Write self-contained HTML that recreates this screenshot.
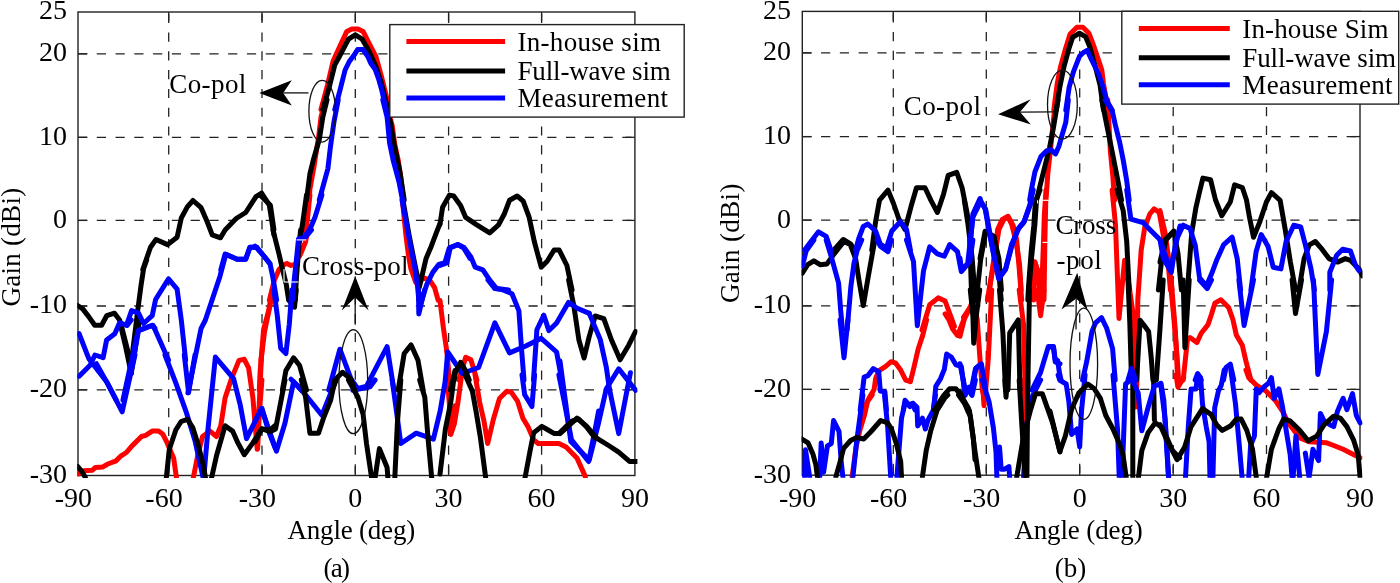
<!DOCTYPE html><html><head><meta charset="utf-8"><style>html,body{margin:0;padding:0;background:#fff;overflow:hidden}svg{display:block;will-change:transform}</style></head><body><svg width="1400" height="583" viewBox="0 0 1400 583" font-family="Liberation Serif, serif" fill="#000">
<rect width="1400" height="583" fill="#fff"/>
<line x1="168.7" y1="12.0" x2="168.7" y2="475.5" stroke="#222" stroke-width="1.3" stroke-dasharray="9.2 9.57" stroke-dashoffset="-1.8"/>
<line x1="262.0" y1="12.0" x2="262.0" y2="475.5" stroke="#222" stroke-width="1.3" stroke-dasharray="9.2 9.57" stroke-dashoffset="-1.8"/>
<line x1="355.3" y1="12.0" x2="355.3" y2="475.5" stroke="#222" stroke-width="1.3" stroke-dasharray="9.2 9.57" stroke-dashoffset="-1.8"/>
<line x1="448.6" y1="12.0" x2="448.6" y2="475.5" stroke="#222" stroke-width="1.3" stroke-dasharray="9.2 9.57" stroke-dashoffset="-1.8"/>
<line x1="541.6" y1="12.0" x2="541.6" y2="475.5" stroke="#222" stroke-width="1.3" stroke-dasharray="9.2 9.57" stroke-dashoffset="-1.8"/>
<line x1="78.0" y1="53.8" x2="634.9" y2="53.8" stroke="#222" stroke-width="1.3" stroke-dasharray="9.2 9.57"/>
<line x1="78.0" y1="137.3" x2="634.9" y2="137.3" stroke="#222" stroke-width="1.3" stroke-dasharray="9.2 9.57"/>
<line x1="78.0" y1="220.4" x2="634.9" y2="220.4" stroke="#222" stroke-width="1.3" stroke-dasharray="9.2 9.57"/>
<line x1="78.0" y1="306.0" x2="634.9" y2="306.0" stroke="#222" stroke-width="1.3" stroke-dasharray="9.2 9.57"/>
<line x1="78.0" y1="389.8" x2="634.9" y2="389.8" stroke="#222" stroke-width="1.3" stroke-dasharray="9.2 9.57"/>
<line x1="168.7" y1="12.0" x2="168.7" y2="21.3" stroke="#222" stroke-width="1.3"/>
<line x1="168.7" y1="475.5" x2="168.7" y2="466.2" stroke="#222" stroke-width="1.3"/>
<line x1="262.0" y1="12.0" x2="262.0" y2="21.3" stroke="#222" stroke-width="1.3"/>
<line x1="262.0" y1="475.5" x2="262.0" y2="466.2" stroke="#222" stroke-width="1.3"/>
<line x1="355.3" y1="12.0" x2="355.3" y2="21.3" stroke="#222" stroke-width="1.3"/>
<line x1="355.3" y1="475.5" x2="355.3" y2="466.2" stroke="#222" stroke-width="1.3"/>
<line x1="448.6" y1="12.0" x2="448.6" y2="21.3" stroke="#222" stroke-width="1.3"/>
<line x1="448.6" y1="475.5" x2="448.6" y2="466.2" stroke="#222" stroke-width="1.3"/>
<line x1="541.6" y1="12.0" x2="541.6" y2="21.3" stroke="#222" stroke-width="1.3"/>
<line x1="541.6" y1="475.5" x2="541.6" y2="466.2" stroke="#222" stroke-width="1.3"/>
<line x1="78.0" y1="53.8" x2="87.3" y2="53.8" stroke="#222" stroke-width="1.3"/>
<line x1="634.9" y1="53.8" x2="625.6" y2="53.8" stroke="#222" stroke-width="1.3"/>
<line x1="78.0" y1="137.3" x2="87.3" y2="137.3" stroke="#222" stroke-width="1.3"/>
<line x1="634.9" y1="137.3" x2="625.6" y2="137.3" stroke="#222" stroke-width="1.3"/>
<line x1="78.0" y1="220.4" x2="87.3" y2="220.4" stroke="#222" stroke-width="1.3"/>
<line x1="634.9" y1="220.4" x2="625.6" y2="220.4" stroke="#222" stroke-width="1.3"/>
<line x1="78.0" y1="306.0" x2="87.3" y2="306.0" stroke="#222" stroke-width="1.3"/>
<line x1="634.9" y1="306.0" x2="625.6" y2="306.0" stroke="#222" stroke-width="1.3"/>
<line x1="78.0" y1="389.8" x2="87.3" y2="389.8" stroke="#222" stroke-width="1.3"/>
<line x1="634.9" y1="389.8" x2="625.6" y2="389.8" stroke="#222" stroke-width="1.3"/>
<rect x="78.0" y="12.0" width="556.9" height="463.5" fill="none" stroke="#222" stroke-width="1.4"/>
<clipPath id="clipa"><rect x="77.3" y="9.0" width="560.1" height="469.0"/></clipPath>
<g clip-path="url(#clipa)" fill="none" stroke-width="5" stroke-linejoin="round" stroke-linecap="round">
<path d="M321.0,109.5 L327.0,87.2 L333.0,61.5 L335.6,55.5 L340.8,44.3 L346.8,31.4 L351.9,28.9 L357.9,28.9 L363.1,31.4 L368.2,41.7 L375.9,56.3 L381.1,75.2 L385.4,92.3 L388.8,106.1" stroke="#ff0000"/>
<path d="M325.3,100.0 L321.0,117.2 L318.5,137.7 L314.2,165.2 L309.9,189.2 L309.0,200.0" stroke="#ff0000"/>
<path d="M385.4,100.0 L392.2,125.7 L394.8,144.6 L398.2,160.0 L400.8,177.2 L403.4,200.0" stroke="#ff0000"/>
<path d="M269.4,300.0 L274.2,280.5 L279.0,269.6 L283.8,264.8 L286.8,263.4 L291.0,265.4 L294.6,264.8" stroke="#ff0000"/>
<path d="M299.4,256.4 L300.6,254.0 L305.5,242.0 L307.9,230.0" stroke="#ff0000"/>
<path d="M309.9,195.0 L307.3,220.7 L305.6,231.0" stroke="#ff0000"/>
<path d="M402.4,200.0 L405.8,234.3 L408.4,254.9 L410.9,268.7 L415.8,282.4 L420.0,280.7 L424.3,278.1 L429.5,279.8 L434.6,287.6 L438.1,300.1" stroke="#ff0000"/>
<path d="M78.2,474.0 L83.6,470.8 L92.1,470.3 L95.4,467.5 L102.9,466.9 L107.2,464.3 L112.5,462.2 L115.7,461.1 L121.1,455.8 L126.4,452.5 L131.8,446.1 L141.5,436.5 L145.7,435.4 L152.2,431.1 L158.6,431.1 L162.9,434.3 L167.2,442.9 L173.6,457.9 L176.8,480.0" stroke="#ff0000"/>
<path d="M192.9,480.0 L197.2,457.9 L202.5,436.5 L210.0,431.1 L216.5,436.5 L220.8,425.7 L225.1,397.9 L231.5,378.6 L239.0,360.4 L244.3,359.3 L248.6,367.9 L252.9,397.9 L257.2,449.3 L261.5,355.0" stroke="#ff0000"/>
<path d="M261.1,360.0 L264.5,332.0 L270.5,302.9" stroke="#ff0000"/>
<path d="M272.2,290.0 L268.7,310.6 L263.6,329.5 L261.9,350.0 L260.1,372.3 L259.3,390.0" stroke="#ff0000"/>
<path d="M446.8,350.9 L448.8,372.3 L449.7,390.0" stroke="#ff0000"/>
<path d="M261.9,380.0 L259.3,414.3 L257.6,448.6" stroke="#ff0000"/>
<path d="M448.8,380.0 L450.5,433.2 L455.0,405.7" stroke="#ff0000"/>
<path d="M440.0,300.6 L443.4,328.0 L446.9,352.0" stroke="#ff0000"/>
<path d="M458.9,380.0 L465.7,357.2 L470.9,359.8 L474.3,370.9 L476.9,380.0" stroke="#ff0000"/>
<path d="M447.2,375.0 L449.9,411.0 L450.8,434.5 L454.4,423.6 L458.0,402.0 L461.6,375.0" stroke="#ff0000"/>
<path d="M475.1,375.0 L479.6,402.0 L484.1,421.8 L487.7,443.5 L493.2,420.0 L499.5,398.4 L506.7,391.2 L511.2,392.1 L517.5,401.1 L522.9,418.2 L528.3,427.3 L533.7,439.9 L538.2,443.5 L558.9,443.5 L566.1,447.1 L576.9,457.9 L585.0,475.9 L586.8,483.1" stroke="#ff0000"/>
<path d="M142.8,269.5 L150.5,247.2 L156.0,239.5 L167.6,244.6 L177.1,237.2 L181.3,218.0 L187.3,206.9 L193.0,200.5 L201.1,207.7 L207.1,221.5 L212.2,234.8 L220.5,237.8 L225.1,230.0 L236.2,218.5 L245.7,212.5 L256.0,196.6 L261.6,193.2 L269.3,205.2 L274.0,235.2" stroke="#000000"/>
<path d="M322.8,109.5 L328.8,88.9 L334.8,64.9 L339.0,57.2 L348.5,39.2 L355.3,34.9 L362.2,39.2 L369.1,51.2 L375.9,66.6 L381.1,82.0 L387.9,109.5" stroke="#000000"/>
<path d="M327.0,100.0 L322.8,117.2 L319.3,139.5 L313.3,160.0 L309.9,173.8 L306.5,200.0" stroke="#000000"/>
<path d="M384.5,100.0 L390.5,122.3 L393.9,142.9 L399.9,172.0 L404.2,200.0" stroke="#000000"/>
<path d="M273.0,230.0 L279.0,254.0 L282.6,269.6 L286.2,284.1 L288.6,300.0" stroke="#000000"/>
<path d="M300.6,230.0 L298.8,248.0 L296.4,278.0 L295.2,300.0" stroke="#000000"/>
<path d="M120.3,324.1 L125.8,347.4 L131.2,373.5" stroke="#000000"/>
<path d="M131.2,373.5 L135.4,347.4 L139.5,320.0" stroke="#000000"/>
<path d="M260.1,195.0 L270.4,205.3 L273.9,229.3" stroke="#000000"/>
<path d="M306.5,195.0 L303.0,220.7 L300.5,237.9" stroke="#000000"/>
<path d="M402.9,200.0 L408.9,234.3 L414.0,260.1 L417.5,277.3 L419.2,287.6 L420.9,280.7 L426.1,258.4 L431.2,246.4 L436.4,232.6 L439.8,224.0" stroke="#000000"/>
<path d="M77.6,305.5 L82.7,308.9 L88.7,316.6 L94.7,325.2 L101.6,325.2 L106.7,315.7 L114.5,313.2 L119.6,320.0 L123.0,332.0 L126.5,345.8 L129.9,360.0" stroke="#000000"/>
<path d="M131.6,360.0 L137.6,311.5 L141.0,285.7 L143.6,268.6 L146.7,260.0" stroke="#000000"/>
<path d="M288.6,299.9 L294.5,307.2 L296.2,290.0" stroke="#000000"/>
<path d="M440.0,224.3 L442.6,207.2 L449.4,195.1 L453.7,196.0 L460.6,205.4 L465.7,217.4 L476.0,224.3 L489.7,232.9 L498.3,225.2 L504.3,214.0 L509.5,200.3 L517.2,196.0 L523.2,201.1 L529.2,217.4 L534.3,241.5 L541.2,267.2 L547.2,261.2 L554.1,250.0 L559.2,250.0 L566.9,265.5 L572.1,290.0" stroke="#000000"/>
<path d="M568.6,280.0 L573.8,305.7 L578.9,340.0 L584.1,358.0 L589.2,336.6 L595.2,316.0 L603.8,318.6 L611.5,340.0 L620.1,359.8 L628.7,345.2 L635.5,331.5" stroke="#000000"/>
<path d="M220.8,270.0 L225.1,254.0 L237.1,259.2 L245.7,259.2 L250.0,247.2 L256.8,247.2 L269.7,263.5" stroke="#0000ff"/>
<path d="M334.8,109.5 L339.9,90.6 L345.1,70.0 L349.3,61.5 L354.5,54.6 L357.6,49.5 L363.1,49.5 L368.2,57.2 L370.8,63.2 L375.1,69.2 L378.5,78.6 L381.9,90.6 L386.2,109.5" stroke="#0000ff"/>
<path d="M338.2,100.0 L333.9,122.3 L330.5,146.3 L327.9,168.6 L319.3,200.0" stroke="#0000ff"/>
<path d="M382.8,100.0 L387.1,117.2 L389.6,142.9 L393.1,160.0 L399.1,182.3 L402.5,200.0" stroke="#0000ff"/>
<path d="M311.5,230.0 L305.5,237.2 L298.5,239.0 L297.0,254.0 L294.0,281.7 L292.5,300.0" stroke="#0000ff"/>
<path d="M255.0,246.2 L262.2,254.0 L270.0,263.6 L273.0,278.0 L276.6,300.0" stroke="#0000ff"/>
<path d="M79.1,333.7 L88.7,358.4 L106.6,381.7 L116.2,400.0" stroke="#0000ff"/>
<path d="M79.1,376.2 L90.1,365.3 L94.9,355.0 L103.1,357.7 L106.6,339.9 L114.8,333.7 L119.6,322.7 L127.1,325.5 L131.2,320.0" stroke="#0000ff"/>
<path d="M123.0,400.0 L129.9,368.0 L138.1,331.0 L151.8,325.5 L155.0,328.2" stroke="#0000ff"/>
<path d="M321.9,195.0 L315.0,217.3 L309.9,229.3 L304.7,236.2" stroke="#0000ff"/>
<path d="M402.0,200.0 L406.8,225.8 L410.9,248.1 L414.4,265.2 L417.5,285.8 L418.8,300.1" stroke="#0000ff"/>
<path d="M421.8,300.1 L426.9,284.1 L432.9,272.1 L438.9,264.4 L444.9,262.7 L449.2,248.1 L457.8,244.6 L463.8,248.1 L470.0,258.4" stroke="#0000ff"/>
<path d="M165.0,355.0 L175.8,382.9 L186.5,412.9 L195.0,440.7 L203.6,480.0" stroke="#0000ff"/>
<path d="M184.3,355.0 L188.6,392.5 L195.0,355.0" stroke="#0000ff"/>
<path d="M203.6,480.0 L207.9,430.0 L215.4,357.1 L233.6,378.6 L240.1,404.3 L246.5,438.6 L261.5,408.6 L275.0,447.2" stroke="#0000ff"/>
<path d="M133.3,360.0 L138.5,330.3 L153.0,325.2 L168.5,360.0" stroke="#0000ff"/>
<path d="M126.5,325.2 L131.6,310.6 L138.5,313.2 L143.6,323.5 L152.2,315.7 L155.6,299.5 L168.5,278.9 L177.1,289.2 L181.3,320.0 L185.6,360.0" stroke="#0000ff"/>
<path d="M187.9,392.9 L201.0,328.7 L205.4,320.0 L220.0,276.2 L225.8,254.4 L237.1,259.2 L245.7,259.2 L250.0,247.2 L256.8,247.2" stroke="#0000ff"/>
<path d="M273.9,290.0 L277.3,315.7 L280.7,348.3 L285.9,353.5 L289.3,324.3 L291.9,290.0" stroke="#0000ff"/>
<path d="M291.0,379.2 L297.9,386.1 L301.3,390.0" stroke="#0000ff"/>
<path d="M328.8,390.0 L339.9,349.2 L351.1,379.2 L357.9,388.6 L366.5,386.1 L387.1,346.6 L393.9,390.0" stroke="#0000ff"/>
<path d="M418.5,290.0 L418.8,314.0 L424.5,290.0" stroke="#0000ff"/>
<path d="M255.0,421.2 L261.9,408.3 L268.7,431.5 L276.4,451.2 L285.0,422.9 L293.6,381.7 L304.7,393.7 L321.9,415.2 L330.5,393.7 L333.0,380.0" stroke="#0000ff"/>
<path d="M352.8,390.3 L369.9,386.9 L375.1,380.0" stroke="#0000ff"/>
<path d="M392.2,380.0 L395.7,405.7 L400.8,443.5 L416.2,433.2 L433.4,439.2 L440.2,410.9 L445.4,380.0" stroke="#0000ff"/>
<path d="M440.0,265.5 L446.9,262.9 L450.3,247.5 L458.0,244.5 L464.0,247.5 L470.9,256.9 L475.2,267.2 L482.9,269.8 L489.7,280.1 L496.6,288.6 L508.6,290.0" stroke="#0000ff"/>
<path d="M488.0,280.0 L494.9,288.6 L501.7,289.4 L512.0,293.7 L518.9,310.9 L521.5,348.6 L524.0,380.0" stroke="#0000ff"/>
<path d="M445.3,380.0 L447.7,352.0 L462.3,373.5 L478.6,367.5 L494.9,322.9 L509.5,352.9 L525.8,346.0 L541.2,338.3 L556.6,352.0 L561.8,380.0" stroke="#0000ff"/>
<path d="M533.5,380.0 L536.9,329.7 L543.8,315.2 L548.9,330.6 L556.6,322.9 L568.6,302.3 L577.2,308.3 L589.2,313.4" stroke="#0000ff"/>
<path d="M589.2,313.4 L600.2,339.4 L606.3,367.2 L609.4,388.8 L618.7,433.6 L630.4,372.8" stroke="#0000ff"/>
<path d="M560.0,361.0 L570.8,441.4 L589.3,459.9 L598.6,422.8 L606.3,388.8 L618.7,368.8 L635.7,390.4" stroke="#0000ff"/>
<path d="M522.0,375.0 L524.7,394.8 L531.9,406.5 L534.6,375.0" stroke="#0000ff"/>
<path d="M558.9,375.0 L564.3,402.0 L571.5,439.9 L588.6,461.5 L595.9,425.5 L598.6,411.0" stroke="#0000ff"/>
<path d="M96.4,363.6 L107.2,382.9 L122.2,411.8 L128.6,382.9 L135.0,355.0" stroke="#0000ff"/>
<path d="M166.1,480.0 L169.3,449.3 L175.8,430.0 L181.1,421.5 L187.5,419.3 L192.9,427.9 L198.3,445.0 L203.6,466.5 L205.8,480.0" stroke="#000000"/>
<path d="M211.1,480.0 L216.5,455.8 L225.1,425.7 L232.6,431.1 L237.9,442.9 L244.3,454.7 L252.9,442.9 L261.5,429.0 L270.1,430.0 L275.0,425.7" stroke="#000000"/>
<path d="M282.4,390.0 L285.9,370.6 L293.6,357.8 L299.6,365.5 L306.5,390.0" stroke="#000000"/>
<path d="M332.2,390.0 L337.3,377.5 L342.5,372.3 L351.1,379.2 L354.5,390.0" stroke="#000000"/>
<path d="M398.2,390.0 L404.2,353.5 L411.1,344.9 L418.0,360.3 L423.1,390.0" stroke="#000000"/>
<path d="M450.5,390.0 L455.0,370.6" stroke="#000000"/>
<path d="M255.0,441.7 L261.9,428.9 L270.4,431.5 L275.6,428.9 L280.7,402.3 L285.0,380.0" stroke="#000000"/>
<path d="M301.3,380.0 L305.6,397.2 L309.9,433.2 L318.5,433.2 L323.6,417.7 L330.5,400.6 L333.9,385.1 L334.8,380.0" stroke="#000000"/>
<path d="M348.5,380.0 L357.9,397.2 L363.1,414.3 L366.5,443.5 L371.6,477.8 L375.1,477.8 L379.4,448.6 L387.1,467.5 L387.9,477.8" stroke="#000000"/>
<path d="M394.8,477.8 L397.4,422.9 L400.8,380.0" stroke="#000000"/>
<path d="M419.7,380.0 L424.8,397.2 L428.2,440.0 L431.7,477.8" stroke="#000000"/>
<path d="M454.2,380.0 L455.4,372.6 L460.6,362.3 L465.7,370.9 L469.2,380.0" stroke="#000000"/>
<path d="M560.0,433.6 L577.0,418.2 L586.3,425.9 L597.1,438.3 L609.4,446.0 L618.7,452.2 L629.5,461.4 L637.0,461.4" stroke="#000000"/>
<path d="M440.0,474.1 L445.4,429.1 L450.8,402.0 L454.4,375.0" stroke="#000000"/>
<path d="M465.2,375.0 L472.4,391.2 L476.0,411.0 L480.5,438.1 L485.9,479.5" stroke="#000000"/>
<path d="M524.7,479.5 L530.1,450.7 L533.7,432.7 L541.8,426.4 L548.1,430.0 L554.4,433.6 L558.9,433.6 L566.1,426.4 L572.4,420.9 L578.7,419.1 L586.8,427.3 L595.0,438.1" stroke="#000000"/>
<path d="M77.6,466.5 L81.4,470.8 L85.3,477.2" stroke="#000000"/>
</g>
<line x1="893.3" y1="11.4" x2="893.3" y2="475.2" stroke="#222" stroke-width="1.3" stroke-dasharray="9.2 9.57" stroke-dashoffset="-1.8"/>
<line x1="986.3" y1="11.4" x2="986.3" y2="475.2" stroke="#222" stroke-width="1.3" stroke-dasharray="9.2 9.57" stroke-dashoffset="-1.8"/>
<line x1="1079.7" y1="11.4" x2="1079.7" y2="475.2" stroke="#222" stroke-width="1.3" stroke-dasharray="9.2 9.57" stroke-dashoffset="-1.8"/>
<line x1="1173.2" y1="11.4" x2="1173.2" y2="475.2" stroke="#222" stroke-width="1.3" stroke-dasharray="9.2 9.57" stroke-dashoffset="-1.8"/>
<line x1="1266.5" y1="11.4" x2="1266.5" y2="475.2" stroke="#222" stroke-width="1.3" stroke-dasharray="9.2 9.57" stroke-dashoffset="-1.8"/>
<line x1="802.3" y1="52.9" x2="1360.0" y2="52.9" stroke="#222" stroke-width="1.3" stroke-dasharray="9.2 9.57"/>
<line x1="802.3" y1="136.6" x2="1360.0" y2="136.6" stroke="#222" stroke-width="1.3" stroke-dasharray="9.2 9.57"/>
<line x1="802.3" y1="220.1" x2="1360.0" y2="220.1" stroke="#222" stroke-width="1.3" stroke-dasharray="9.2 9.57"/>
<line x1="802.3" y1="305.9" x2="1360.0" y2="305.9" stroke="#222" stroke-width="1.3" stroke-dasharray="9.2 9.57"/>
<line x1="802.3" y1="389.4" x2="1360.0" y2="389.4" stroke="#222" stroke-width="1.3" stroke-dasharray="9.2 9.57"/>
<line x1="893.3" y1="11.4" x2="893.3" y2="20.700000000000003" stroke="#222" stroke-width="1.3"/>
<line x1="893.3" y1="475.2" x2="893.3" y2="465.9" stroke="#222" stroke-width="1.3"/>
<line x1="986.3" y1="11.4" x2="986.3" y2="20.700000000000003" stroke="#222" stroke-width="1.3"/>
<line x1="986.3" y1="475.2" x2="986.3" y2="465.9" stroke="#222" stroke-width="1.3"/>
<line x1="1079.7" y1="11.4" x2="1079.7" y2="20.700000000000003" stroke="#222" stroke-width="1.3"/>
<line x1="1079.7" y1="475.2" x2="1079.7" y2="465.9" stroke="#222" stroke-width="1.3"/>
<line x1="1173.2" y1="11.4" x2="1173.2" y2="20.700000000000003" stroke="#222" stroke-width="1.3"/>
<line x1="1173.2" y1="475.2" x2="1173.2" y2="465.9" stroke="#222" stroke-width="1.3"/>
<line x1="1266.5" y1="11.4" x2="1266.5" y2="20.700000000000003" stroke="#222" stroke-width="1.3"/>
<line x1="1266.5" y1="475.2" x2="1266.5" y2="465.9" stroke="#222" stroke-width="1.3"/>
<line x1="802.3" y1="52.9" x2="811.5999999999999" y2="52.9" stroke="#222" stroke-width="1.3"/>
<line x1="1360.0" y1="52.9" x2="1350.7" y2="52.9" stroke="#222" stroke-width="1.3"/>
<line x1="802.3" y1="136.6" x2="811.5999999999999" y2="136.6" stroke="#222" stroke-width="1.3"/>
<line x1="1360.0" y1="136.6" x2="1350.7" y2="136.6" stroke="#222" stroke-width="1.3"/>
<line x1="802.3" y1="220.1" x2="811.5999999999999" y2="220.1" stroke="#222" stroke-width="1.3"/>
<line x1="1360.0" y1="220.1" x2="1350.7" y2="220.1" stroke="#222" stroke-width="1.3"/>
<line x1="802.3" y1="305.9" x2="811.5999999999999" y2="305.9" stroke="#222" stroke-width="1.3"/>
<line x1="1360.0" y1="305.9" x2="1350.7" y2="305.9" stroke="#222" stroke-width="1.3"/>
<line x1="802.3" y1="389.4" x2="811.5999999999999" y2="389.4" stroke="#222" stroke-width="1.3"/>
<line x1="1360.0" y1="389.4" x2="1350.7" y2="389.4" stroke="#222" stroke-width="1.3"/>
<rect x="802.3" y="11.4" width="557.7" height="463.8" fill="none" stroke="#222" stroke-width="1.4"/>
<clipPath id="clipb"><rect x="801.5999999999999" y="8.4" width="560.9000000000001" height="469.3"/></clipPath>
<g clip-path="url(#clipb)" fill="none" stroke-width="5" stroke-linejoin="round" stroke-linecap="round">
<path d="M1053.8,110.0 L1057.2,83.8 L1060.6,66.6 L1065.8,47.7 L1070.1,34.0 L1076.9,27.2 L1082.9,27.2 L1088.9,33.2 L1093.2,44.3 L1098.4,59.7 L1101.8,70.0 L1103.5,83.8 L1106.1,99.2 L1107.8,110.0" stroke="#ff0000"/>
<path d="M1055.5,100.0 L1052.9,125.7 L1050.3,151.5 L1047.8,173.8 L1046.0,200.0" stroke="#ff0000"/>
<path d="M1107.8,100.0 L1108.6,117.2 L1110.4,151.5 L1112.9,177.2 L1114.6,200.0" stroke="#ff0000"/>
<path d="M989.4,290.0 L993.7,262.0 L998.9,229.5 L1004.0,219.2 L1008.3,217.4 L1011.7,224.3 L1016.0,241.5 L1019.5,263.8 L1021.2,290.0" stroke="#ff0000"/>
<path d="M1046.0,190.0 L1044.3,215.7 L1043.5,241.5 L1041.7,290.0" stroke="#ff0000"/>
<path d="M1033.2,290.0 L1034.9,262.0 L1038.3,272.3 L1040.0,290.0" stroke="#ff0000"/>
<path d="M987.4,300.0 L992.6,268.6 L997.7,229.2 L1002.0,219.7 L1008.0,216.3 L1013.2,225.7 L1016.6,239.5 L1019.2,268.6 L1021.7,300.0" stroke="#ff0000"/>
<path d="M1033.8,300.0 L1034.6,261.7 L1038.0,272.0 L1040.6,300.0" stroke="#ff0000"/>
<path d="M1045.8,200.0 L1044.9,239.5 L1044.0,300.0" stroke="#ff0000"/>
<path d="M960.0,336.3 L964.3,319.2 L969.4,308.9 L972.9,300.3 L977.2,319.2 L979.7,355.2 L982.3,390.0 L984.0,396.3 L985.7,390.0 L988.3,358.6 L991.7,290.0" stroke="#ff0000"/>
<path d="M1019.2,290.0 L1023.5,324.3 L1025.2,390.0" stroke="#ff0000"/>
<path d="M1037.2,290.0 L1040.6,315.7 L1044.0,290.0" stroke="#ff0000"/>
<path d="M982.3,380.0 L984.0,405.7 L985.7,380.0" stroke="#ff0000"/>
<path d="M1023.5,380.0 L1024.3,422.9" stroke="#ff0000"/>
<path d="M922.0,330.0 L929.7,304.8 L938.2,297.9 L945.1,301.0 L950.5,315.6 L954.4,326.4" stroke="#ff0000"/>
<path d="M963.6,317.2 L969.8,307.9" stroke="#ff0000"/>
<path d="M926.6,320.0 L922.7,335.4 L918.1,349.3 L914.2,366.3 L910.4,381.7 L905.7,380.2 L900.3,369.4 L895.7,363.2 L891.1,361.7 L885.7,366.3 L878.7,370.9 L875.6,378.7 L874.1,389.5 L869.5,397.2 L866.4,403.4 L864.8,410.0" stroke="#ff0000"/>
<path d="M945.1,313.8 L949.0,320.0 L952.8,329.3 L957.5,335.4 L961.3,326.2 L963.6,320.0 L964.4,316.9" stroke="#ff0000"/>
<path d="M852.1,476.8 L856.0,447.5 L859.8,430.5 L864.5,415.1 L867.6,401.2 L872.2,395.0" stroke="#ff0000"/>
<path d="M1170.1,280.0 L1173.5,314.3 L1176.9,353.8 L1178.6,380.0" stroke="#ff0000"/>
<path d="M1176.0,375.0 L1177.8,385.8" stroke="#ff0000"/>
<path d="M1160.0,210.6 L1165.1,232.9 L1168.6,258.6 L1172.0,290.0" stroke="#ff0000"/>
<path d="M1171.2,280.0 L1175.4,331.5 L1178.0,387.2 L1183.7,377.8" stroke="#ff0000"/>
<path d="M1183.2,380.0 L1187.4,340.0 L1190.0,337.5 L1196.9,342.6 L1201.2,333.2 L1208.0,324.6 L1211.5,314.3 L1214.9,303.2 L1220.9,299.7 L1228.6,307.4 L1232.9,319.5 L1236.3,334.9 L1242.3,345.2 L1245.8,360.6 L1250.9,380.0" stroke="#ff0000"/>
<path d="M1245.9,370.0 L1248.7,377.6 L1256.3,385.1 L1265.7,390.8 L1275.1,400.2 L1282.7,411.5 L1288.4,422.9 L1299.7,438.0 L1309.1,441.7 L1326.1,442.7 L1333.7,445.5 L1343.1,449.3 L1354.4,454.9 L1360.1,457.8" stroke="#ff0000"/>
<path d="M1112.1,190.0 L1115.5,225.0 L1119.0,318.4 L1124.6,260.3 L1129.0,285.0 L1134.0,320.0 L1135.5,380.0 L1135.8,407.0 L1137.0,380.0 L1137.8,300.0 L1141.2,250.0 L1144.7,227.7 L1149.8,214.0 L1154.1,208.9 L1159.2,212.3 L1163.5,236.3 L1167.8,258.6 L1170.4,290.0" stroke="#ff0000"/>
<path d="M1056.3,110.0 L1059.8,87.2 L1064.0,66.6 L1069.2,47.7 L1072.6,37.4 L1079.5,33.2 L1085.5,36.6 L1089.8,46.9 L1094.9,64.9 L1100.1,85.5 L1103.5,110.0" stroke="#000000"/>
<path d="M1058.0,100.0 L1053.8,125.7 L1049.5,148.0 L1044.3,168.6 L1040.0,185.8 L1036.6,200.0" stroke="#000000"/>
<path d="M1101.8,100.0 L1106.9,125.7 L1112.1,151.5 L1117.2,177.2 L1121.5,200.0" stroke="#000000"/>
<path d="M980.0,258.6 L985.1,231.2 L993.7,236.3 L998.9,258.6 L1001.4,290.0" stroke="#000000"/>
<path d="M1040.0,190.0 L1036.6,198.6 L1034.9,224.3 L1031.5,258.6 L1028.9,290.0" stroke="#000000"/>
<path d="M1117.2,190.0 L1123.2,210.6 L1126.7,241.5 L1129.2,290.0" stroke="#000000"/>
<path d="M1158.4,290.0 L1161.8,258.6 L1166.1,239.7 L1173.8,231.2" stroke="#000000"/>
<path d="M964.3,200.0 L967.7,222.3 L972.0,256.6 L975.4,300.0" stroke="#000000"/>
<path d="M976.3,300.0 L980.6,260.0 L985.7,231.7 L994.3,236.9 L997.7,260.0 L1001.2,300.0" stroke="#000000"/>
<path d="M1035.5,200.0 L1033.8,225.7 L1031.2,251.5 L1028.6,285.8 L1027.8,300.0" stroke="#000000"/>
<path d="M970.3,290.0 L972.9,315.7 L973.7,343.2 L976.3,315.7 L979.7,290.0" stroke="#000000"/>
<path d="M999.5,290.0 L1002.9,332.9 L1005.5,390.0" stroke="#000000"/>
<path d="M1008.0,390.0 L1009.7,332.9 L1018.3,320.0 L1020.0,390.0" stroke="#000000"/>
<path d="M1029.5,290.0 L1027.8,390.0" stroke="#000000"/>
<path d="M871.8,250.0 L875.6,221.7 L879.5,200.1 L888.0,190.1 L893.4,203.2 L898.8,218.7 L905.0,229.5 L911.1,206.3 L916.5,187.8 L925.0,187.8 L931.2,200.9 L937.4,212.5 L943.6,194.0 L948.2,175.4 L956.7,172.3 L962.1,187.8 L966.7,210.9 L969.8,229.5 L971.3,250.0" stroke="#000000"/>
<path d="M834.0,250.0 L843.2,239.5 L850.9,244.1 L854.0,250.0" stroke="#000000"/>
<path d="M802.3,273.2 L807.7,264.7 L813.9,260.8 L820.1,264.7 L827.0,263.9 L834.7,253.1 L844.0,241.5 L850.2,244.6 L855.6,258.5 L858.7,278.6 L863.3,305.6 L867.9,278.6 L872.6,252.3 L874.9,240.0" stroke="#000000"/>
<path d="M969.8,240.0 L971.3,286.3 L974.4,330.0" stroke="#000000"/>
<path d="M1128.0,280.0 L1129.8,322.9 L1131.5,380.0" stroke="#000000"/>
<path d="M1136.6,380.0 L1140.1,320.3 L1143.5,324.6 L1148.6,331.5 L1151.2,357.2 L1152.9,380.0" stroke="#000000"/>
<path d="M1156.3,380.0 L1159.8,331.5 L1163.2,280.0" stroke="#000000"/>
<path d="M1132.8,375.0 L1132.8,479.4" stroke="#000000"/>
<path d="M1153.5,375.0 L1154.4,420.0" stroke="#000000"/>
<path d="M1160.0,262.1 L1165.1,239.8 L1173.7,231.2 L1178.0,253.5 L1181.4,290.0" stroke="#000000"/>
<path d="M1299.0,290.0 L1304.1,258.6 L1309.3,244.9 L1315.3,241.5 L1321.3,248.3 L1329.0,258.6 L1337.6,262.1 L1345.3,258.6 L1350.4,260.3 L1359.0,268.9 L1362.4,275.8" stroke="#000000"/>
<path d="M1183.2,280.0 L1184.9,347.8 L1189.2,280.0" stroke="#000000"/>
<path d="M1292.1,280.0 L1295.5,313.5 L1301.5,280.0" stroke="#000000"/>
<path d="M1187.4,290.0 L1191.7,232.9 L1196.0,207.2 L1199.5,192.0 L1202.9,178.1 L1210.6,179.8 L1215.5,200.0 L1221.8,215.7 L1230.3,202.0 L1234.6,184.9 L1242.3,187.5 L1246.5,200.0 L1249.2,215.7 L1253.5,237.2 L1259.5,222.6 L1266.4,202.0 L1271.5,192.6 L1280.1,200.3 L1285.2,229.5 L1290.4,262.1 L1295.5,290.0" stroke="#000000"/>
<path d="M1065.8,110.0 L1069.2,87.2 L1073.5,71.7 L1079.5,56.3 L1082.9,52.9 L1087.2,50.3 L1091.5,59.7 L1098.4,73.5 L1102.6,85.5 L1106.9,100.9 L1112.1,110.0" stroke="#0000ff"/>
<path d="M1068.3,100.0 L1065.8,122.3 L1062.3,134.3 L1058.9,146.3 L1055.5,154.0 L1051.2,149.7 L1046.9,150.6 L1040.9,156.6 L1034.9,172.0 L1031.5,189.2 L1029.7,200.0" stroke="#0000ff"/>
<path d="M1105.2,100.0 L1112.1,110.3 L1115.5,125.7 L1119.8,142.9 L1123.2,160.0 L1126.7,180.6 L1129.2,200.0" stroke="#0000ff"/>
<path d="M980.0,199.4 L985.1,208.9 L989.4,232.9 L993.7,255.2 L998.9,277.5 L1005.7,268.9 L1011.7,246.6 L1017.7,229.5 L1023.7,222.6 L1029.7,205.4 L1033.2,190.0" stroke="#0000ff"/>
<path d="M1126.7,190.0 L1130.9,219.2 L1143.0,222.6 L1151.5,231.2 L1160.1,239.7 L1165.2,255.2 L1171.3,272.3 L1175.5,244.9 L1180.0,226.0" stroke="#0000ff"/>
<path d="M960.0,258.3 L961.7,270.3 L967.7,263.5 L972.9,217.2 L980.6,201.7 L985.7,209.4 L990.0,234.3 L994.3,256.6 L998.6,278.9 L1005.5,269.5 L1011.5,244.6 L1019.2,227.4 L1024.3,221.4 L1032.0,200.0" stroke="#0000ff"/>
<path d="M960.0,363.8 L965.1,390.0 L967.7,387.8 L972.0,386.1 L975.4,368.9 L981.4,363.8 L985.7,390.0" stroke="#0000ff"/>
<path d="M1032.0,390.0 L1040.6,372.3 L1048.3,346.6 L1053.5,346.6 L1055.2,362.0 L1060.0,363.8" stroke="#0000ff"/>
<path d="M963.4,380.0 L965.1,395.4 L968.6,388.6 L972.0,395.4 L975.4,380.0" stroke="#0000ff"/>
<path d="M982.3,380.0 L989.2,402.3 L993.4,428.0 L996.0,452.0 L996.9,477.8" stroke="#0000ff"/>
<path d="M999.5,446.9 L1001.2,469.2 L1004.6,469.2 L1008.9,466.6 L1009.7,477.8" stroke="#0000ff"/>
<path d="M1040.6,380.0 L1032.0,397.2 L1026.9,422.9 L1023.5,477.8" stroke="#0000ff"/>
<path d="M804.6,250.0 L810.8,241.8 L818.5,231.8 L826.2,236.4 L830.9,250.0" stroke="#0000ff"/>
<path d="M855.6,250.0 L858.7,238.7 L863.3,226.4 L867.9,224.1 L875.6,231.0 L880.3,244.1 L886.4,248.0 L891.8,231.0 L900.3,221.7 L906.5,229.5 L910.4,250.0" stroke="#0000ff"/>
<path d="M969.8,250.0 L972.9,214.0 L980.0,198.6" stroke="#0000ff"/>
<path d="M802.3,266.2 L806.2,250.8 L813.9,240.0" stroke="#0000ff"/>
<path d="M826.2,240.0 L830.9,255.4 L838.6,283.2 L840.6,309.5 L842.5,330.0" stroke="#0000ff"/>
<path d="M847.1,330.0 L850.9,286.3 L854.0,263.2 L857.1,250.8 L861.7,240.0" stroke="#0000ff"/>
<path d="M877.2,240.0 L880.3,246.2 L888.0,251.6 L891.1,240.0" stroke="#0000ff"/>
<path d="M906.5,240.0 L913.5,261.6 L917.3,325.7 L923.5,270.9 L929.7,246.9 L937.4,253.9 L944.3,256.2 L949.7,244.6 L957.5,251.6 L961.3,271.6 L969.8,261.6 L972.9,240.0" stroke="#0000ff"/>
<path d="M840.1,320.0 L844.0,357.8 L847.9,320.0" stroke="#0000ff"/>
<path d="M860.2,410.0 L864.1,377.1 L867.9,375.6 L873.3,368.6 L878.7,371.7 L880.3,391.0 L884.9,391.8 L886.4,410.0" stroke="#0000ff"/>
<path d="M903.4,410.0 L905.0,400.3 L908.8,404.9 L912.7,403.4 L915.0,410.0" stroke="#0000ff"/>
<path d="M933.5,410.0 L935.8,386.4 L940.5,378.7 L944.3,369.4 L946.7,354.0 L951.3,357.0 L955.9,364.8 L961.3,366.3 L964.4,389.5 L969.0,388.7 L971.3,394.1 L976.0,367.9 L980.0,364.8" stroke="#0000ff"/>
<path d="M804.6,476.8 L805.5,449.8 L809.7,476.8" stroke="#0000ff"/>
<path d="M819.7,476.8 L821.2,442.9 L823.6,472.2 L827.4,445.9 L831.3,443.6 L833.6,420.5 L839.0,431.3 L841.3,462.9 L842.9,476.8" stroke="#0000ff"/>
<path d="M852.9,476.8 L856.7,441.3 L859.8,418.2 L862.9,395.0" stroke="#0000ff"/>
<path d="M884.5,395.0 L887.6,425.9 L890.7,476.8" stroke="#0000ff"/>
<path d="M896.9,476.8 L901.5,418.2 L905.4,401.2 L910.0,406.6 L913.1,403.5 L917.0,407.3 L917.7,425.9 L922.4,418.2 L925.4,429.0 L927.8,420.5 L933.2,410.4 L935.5,395.0" stroke="#0000ff"/>
<path d="M1050.0,346.9 L1053.4,346.9 L1055.1,358.9 L1057.7,360.6 L1059.4,372.6 L1061.1,380.0" stroke="#0000ff"/>
<path d="M1082.6,380.0 L1086.9,360.6 L1092.0,331.5 L1095.5,322.9 L1101.5,317.7 L1106.6,328.0 L1112.6,348.6 L1115.2,380.0" stroke="#0000ff"/>
<path d="M1128.0,380.0 L1131.5,368.3 L1135.8,380.0" stroke="#0000ff"/>
<path d="M1058.1,375.0 L1059.9,380.4 L1066.2,384.0 L1068.9,402.0 L1071.6,434.4 L1077.0,429.0 L1079.7,447.0 L1081.5,411.0 L1085.1,375.0" stroke="#0000ff"/>
<path d="M1113.0,375.0 L1117.5,429.0 L1119.3,479.4" stroke="#0000ff"/>
<path d="M1122.0,479.4 L1125.6,384.0 L1131.9,378.6 L1138.2,393.0 L1141.8,430.8 L1148.1,407.4 L1154.4,385.8 L1160.7,384.0 L1165.2,420.0 L1168.8,479.4" stroke="#0000ff"/>
<path d="M1160.0,239.8 L1163.4,258.6 L1170.3,270.6 L1177.2,238.0 L1183.2,225.2 L1190.0,228.6 L1195.2,244.9 L1199.5,277.5 L1206.3,286.1 L1211.5,274.1 L1216.6,260.3 L1223.5,244.9 L1232.1,237.2 L1237.2,258.6 L1240.6,290.0" stroke="#0000ff"/>
<path d="M1250.9,290.0 L1256.1,251.8 L1261.2,234.6 L1268.1,246.6 L1273.2,267.2 L1280.9,268.9 L1286.1,241.5 L1293.8,225.2 L1300.7,226.9 L1305.8,246.6 L1311.0,268.9 L1314.4,290.0" stroke="#0000ff"/>
<path d="M1329.8,290.0 L1329.8,272.3 L1336.7,255.2 L1342.7,249.2 L1350.4,250.9 L1355.6,265.5 L1359.0,270.6" stroke="#0000ff"/>
<path d="M1199.5,280.0 L1207.2,288.6 L1211.5,280.0" stroke="#0000ff"/>
<path d="M1238.9,280.0 L1244.1,325.5 L1253.5,280.0" stroke="#0000ff"/>
<path d="M1313.5,280.0 L1317.8,374.4 L1326.4,331.5 L1331.6,280.0" stroke="#0000ff"/>
<path d="M1195.2,380.0 L1197.7,373.5 L1201.2,380.0" stroke="#0000ff"/>
<path d="M1223.5,380.0 L1226.0,367.5 L1230.3,364.1 L1233.8,380.0" stroke="#0000ff"/>
<path d="M1160.9,383.2 L1163.8,400.2 L1166.6,445.5 L1168.5,477.6" stroke="#0000ff"/>
<path d="M1185.5,477.6 L1188.3,426.6 L1191.1,388.9 L1195.9,388.9 L1197.8,374.7 L1200.6,377.6 L1202.5,404.0 L1206.2,426.6 L1209.1,441.7 L1210.0,477.6" stroke="#0000ff"/>
<path d="M1212.9,477.6 L1214.7,407.8 L1218.5,390.8 L1221.3,385.1 L1224.2,370.0" stroke="#0000ff"/>
<path d="M1230.8,370.0 L1235.5,404.0 L1239.3,445.5 L1242.1,477.6" stroke="#0000ff"/>
<path d="M1248.7,477.6 L1250.6,445.5 L1254.4,436.1 L1256.3,388.9 L1259.1,392.7 L1263.8,387.0 L1268.5,383.2 L1271.4,377.6 L1274.2,398.3 L1278.9,388.9 L1282.7,407.8 L1286.5,432.3 L1290.2,454.9 L1292.1,477.6" stroke="#0000ff"/>
<path d="M1293.1,477.6 L1295.9,436.1 L1299.7,477.6" stroke="#0000ff"/>
<path d="M1305.3,453.1 L1309.1,477.6 L1312.9,449.3 L1316.7,456.8 L1318.6,460.6 L1320.4,413.4 L1324.2,421.0 L1329.9,424.7 L1333.7,426.6 L1337.4,411.5 L1343.1,398.3 L1346.9,409.6 L1352.5,393.6 L1356.3,415.3 L1360.1,422.9" stroke="#0000ff"/>
<path d="M960.0,392.0 L967.7,410.9 L970.3,416.0 L974.6,448.6 L978.9,477.8" stroke="#000000"/>
<path d="M1004.9,380.0 L1006.0,397.2 L1007.3,380.0" stroke="#000000"/>
<path d="M1019.2,380.0 L1021.7,422.9 L1025.2,477.8" stroke="#000000"/>
<path d="M1016.6,477.8 L1023.5,436.6 L1030.3,410.9 L1035.5,393.7 L1042.3,393.7 L1052.6,422.9 L1060.0,452.0" stroke="#000000"/>
<path d="M1027.8,380.0 L1026.9,477.8" stroke="#000000"/>
<path d="M934.3,410.0 L943.6,395.6 L949.7,388.7 L955.9,388.7 L962.1,397.2 L968.3,408.0" stroke="#000000"/>
<path d="M801.9,439.0 L808.1,442.9 L812.8,453.7 L815.8,464.5 L817.4,476.8" stroke="#000000"/>
<path d="M835.9,476.8 L839.8,462.9 L843.6,448.3 L850.6,440.5 L856.7,437.5 L863.7,439.0 L870.6,432.0 L880.7,420.5 L887.6,422.8 L891.5,429.0 L896.1,442.9 L900.7,461.4 L901.5,476.8" stroke="#000000"/>
<path d="M922.4,476.8 L926.2,450.6 L930.8,430.5 L937.0,410.4 L944.7,398.1 L947.8,395.0" stroke="#000000"/>
<path d="M958.6,395.0 L969.4,410.4 L973.3,438.2 L975.0,459.8" stroke="#000000"/>
<path d="M1050.0,411.0 L1059.9,451.5 L1065.3,436.2 L1071.6,409.2 L1078.8,393.0 L1087.8,384.0 L1094.1,388.5 L1100.4,398.4 L1105.8,415.5 L1113.0,429.0 L1119.3,443.4 L1122.9,454.2 L1126.5,479.4" stroke="#000000"/>
<path d="M1138.2,479.4 L1141.8,450.6 L1148.1,432.6 L1155.3,422.7 L1161.6,427.2 L1167.0,438.0 L1172.4,450.6 L1179.6,457.8" stroke="#000000"/>
<path d="M1160.0,424.7 L1167.6,441.7 L1177.0,459.7 L1184.5,447.4 L1191.1,426.6 L1202.5,408.7 L1211.0,414.4 L1216.6,424.7 L1222.3,430.4 L1230.8,425.7 L1236.4,419.1 L1241.2,419.1 L1246.8,430.4 L1252.5,449.3 L1256.3,477.6" stroke="#000000"/>
<path d="M1266.6,477.6 L1271.4,449.3 L1278.9,428.5 L1283.6,419.1 L1290.2,421.0 L1299.7,430.4 L1308.2,440.8 L1316.7,436.1 L1324.2,424.7 L1333.7,416.2 L1340.3,418.1 L1346.9,426.6 L1353.5,439.8 L1358.2,454.9 L1360.1,477.6" stroke="#000000"/>
</g>
<line x1="296.5" y1="239.9" x2="306.3" y2="239.9" stroke="#fff" stroke-width="1.1"/>
<line x1="284" y1="282" x2="298.4" y2="282" stroke="#fff" stroke-width="1.1"/>
<line x1="284" y1="269" x2="284" y2="282" stroke="#fff" stroke-width="1.1"/>
<line x1="1042.5" y1="200.3" x2="1049" y2="200.3" stroke="#fff" stroke-width="1.1"/>
<line x1="1042.5" y1="242.4" x2="1049" y2="242.4" stroke="#fff" stroke-width="1.1"/>
<line x1="1037.6" y1="200.3" x2="1037.6" y2="203.5" stroke="#fff" stroke-width="1.1"/>
<path d="M259.3,92.9 L291.8,80.3 L283.2,92.9 L291.8,105.4 Z" fill="#000"/>
<line x1="283.2" y1="92.9" x2="308.5" y2="92.9" stroke="#111" stroke-width="1.3"/>
<ellipse cx="322.2" cy="111.2" rx="13.3" ry="30.9" fill="none" stroke="#111" stroke-width="1.3"/>
<path d="M355.2,276.3 L341.8,310.5 L355.2,297.4 L368.6,310.5 Z" fill="#000"/>
<line x1="355.2" y1="297.4" x2="355.2" y2="324.8" stroke="#111" stroke-width="1.3"/>
<ellipse cx="353.3" cy="381.7" rx="14.4" ry="52" fill="none" stroke="#111" stroke-width="1.3"/>
<path d="M998.1,114.3 L1030.8,99.2 L1020,112.1 L1030.8,124.4 Z" fill="#000"/>
<line x1="1020" y1="112.1" x2="1053.8" y2="111.8" stroke="#111" stroke-width="1.3"/>
<ellipse cx="1062.4" cy="104.7" rx="14.9" ry="34.5" fill="none" stroke="#111" stroke-width="1.3"/>
<path d="M1077.2,272.8 L1061.5,309.6 L1076.2,298.5 L1087.6,310 Z" fill="#000"/>
<line x1="1076.2" y1="298.5" x2="1076" y2="329.5" stroke="#111" stroke-width="1.3"/>
<ellipse cx="1083.8" cy="363.8" rx="13.8" ry="55.6" fill="none" stroke="#111" stroke-width="1.3"/>
<rect x="389.8" y="24.6" width="294.40000000000003" height="92.5" fill="#fff" stroke="#222" stroke-width="1.4"/>
<line x1="406.4" y1="41.4" x2="505.1" y2="41.4" stroke="#ff0000" stroke-width="5"/>
<line x1="406.4" y1="71" x2="505.1" y2="71" stroke="#000" stroke-width="5"/>
<line x1="406.4" y1="98.1" x2="505.1" y2="98.1" stroke="#0000ff" stroke-width="5"/>
<text x="517.5" y="51.2" font-size="27" text-anchor="start" textLength="143.5" lengthAdjust="spacing">In-house sim</text>
<text x="517.5" y="80.3" font-size="27" text-anchor="start" textLength="153.3" lengthAdjust="spacing">Full-wave sim</text>
<text x="517.5" y="106.8" font-size="27" text-anchor="start" textLength="150.5" lengthAdjust="spacing">Measurement</text>
<rect x="1121.8" y="11.3" width="276.9000000000001" height="92.8" fill="#fff" stroke="#222" stroke-width="1.4"/>
<line x1="1138.8" y1="28.4" x2="1229.8" y2="28.4" stroke="#ff0000" stroke-width="5"/>
<line x1="1138.8" y1="57.8" x2="1229.8" y2="57.8" stroke="#000" stroke-width="5"/>
<line x1="1138.8" y1="84.8" x2="1229.8" y2="84.8" stroke="#0000ff" stroke-width="5"/>
<text x="1242.3" y="37.7" font-size="27" text-anchor="start" textLength="146.2" lengthAdjust="spacing">In-house Sim</text>
<text x="1242.3" y="67.3" font-size="27" text-anchor="start" textLength="153.8" lengthAdjust="spacing">Full-wave sim</text>
<text x="1242.3" y="94.4" font-size="27" text-anchor="start" textLength="150.3" lengthAdjust="spacing">Measurement</text>
<text x="67" y="19.4" font-size="28" text-anchor="end">25</text>
<text x="67" y="61.2" font-size="28" text-anchor="end">20</text>
<text x="67" y="144.7" font-size="28" text-anchor="end">10</text>
<text x="67" y="227.8" font-size="28" text-anchor="end">0</text>
<text x="67" y="313.4" font-size="28" text-anchor="end">-10</text>
<text x="67" y="397.2" font-size="28" text-anchor="end">-20</text>
<text x="67" y="482.9" font-size="28" text-anchor="end">-30</text>
<text x="92.0" y="507.2" font-size="28" text-anchor="end">-90</text>
<text x="182.7" y="507.2" font-size="28" text-anchor="end">-60</text>
<text x="276.0" y="507.2" font-size="28" text-anchor="end">-30</text>
<text x="355.3" y="507.2" font-size="28" text-anchor="middle">0</text>
<text x="448.6" y="507.2" font-size="28" text-anchor="middle">30</text>
<text x="541.6" y="507.2" font-size="28" text-anchor="middle">60</text>
<text x="634.9" y="507.2" font-size="28" text-anchor="middle">90</text>
<text x="791" y="18.8" font-size="28" text-anchor="end">25</text>
<text x="791" y="60.3" font-size="28" text-anchor="end">20</text>
<text x="791" y="144.0" font-size="28" text-anchor="end">10</text>
<text x="791" y="227.5" font-size="28" text-anchor="end">0</text>
<text x="791" y="313.3" font-size="28" text-anchor="end">-10</text>
<text x="791" y="396.8" font-size="28" text-anchor="end">-20</text>
<text x="791" y="482.6" font-size="28" text-anchor="end">-30</text>
<text x="816.3" y="507.2" font-size="28" text-anchor="end">-90</text>
<text x="907.3" y="507.2" font-size="28" text-anchor="end">-60</text>
<text x="1000.3" y="507.2" font-size="28" text-anchor="end">-30</text>
<text x="1079.7" y="507.2" font-size="28" text-anchor="middle">0</text>
<text x="1173.2" y="507.2" font-size="28" text-anchor="middle">30</text>
<text x="1266.5" y="507.2" font-size="28" text-anchor="middle">60</text>
<text x="1360.0" y="507.2" font-size="28" text-anchor="middle">90</text>
<text x="287.5" y="539" font-size="27" text-anchor="start" textLength="127.7" lengthAdjust="spacing">Angle (deg)</text>
<text x="1014.4" y="539" font-size="27" text-anchor="start" textLength="128.3" lengthAdjust="spacing">Angle (deg)</text>
<text x="323.5" y="577" font-size="27" text-anchor="start" textLength="26.5" lengthAdjust="spacing">(a)</text>
<text x="1054.8" y="577" font-size="27" text-anchor="start">(b)</text>
<text transform="translate(19.5,306.5) rotate(-90)" font-size="27" text-anchor="start" textLength="118.7" lengthAdjust="spacing">Gain (dBi)</text>
<text transform="translate(738.5,303.1) rotate(-90)" font-size="27" text-anchor="start" textLength="119.5" lengthAdjust="spacing">Gain (dBi)</text>
<text x="169.3" y="92.7" font-size="27" text-anchor="start" textLength="77" lengthAdjust="spacing">Co-pol</text>
<text x="302.1" y="274.7" font-size="27" text-anchor="start" textLength="106.3" lengthAdjust="spacing">Cross-pol</text>
<text x="903.7" y="114.5" font-size="27" text-anchor="start" textLength="77.2" lengthAdjust="spacing">Co-pol</text>
<text x="1055.4" y="234" font-size="27" text-anchor="start" textLength="60.8" lengthAdjust="spacing">Cross</text>
<text x="1056.5" y="268.6" font-size="27" text-anchor="start" textLength="45.3" lengthAdjust="spacing">-pol</text>
</svg></body></html>
